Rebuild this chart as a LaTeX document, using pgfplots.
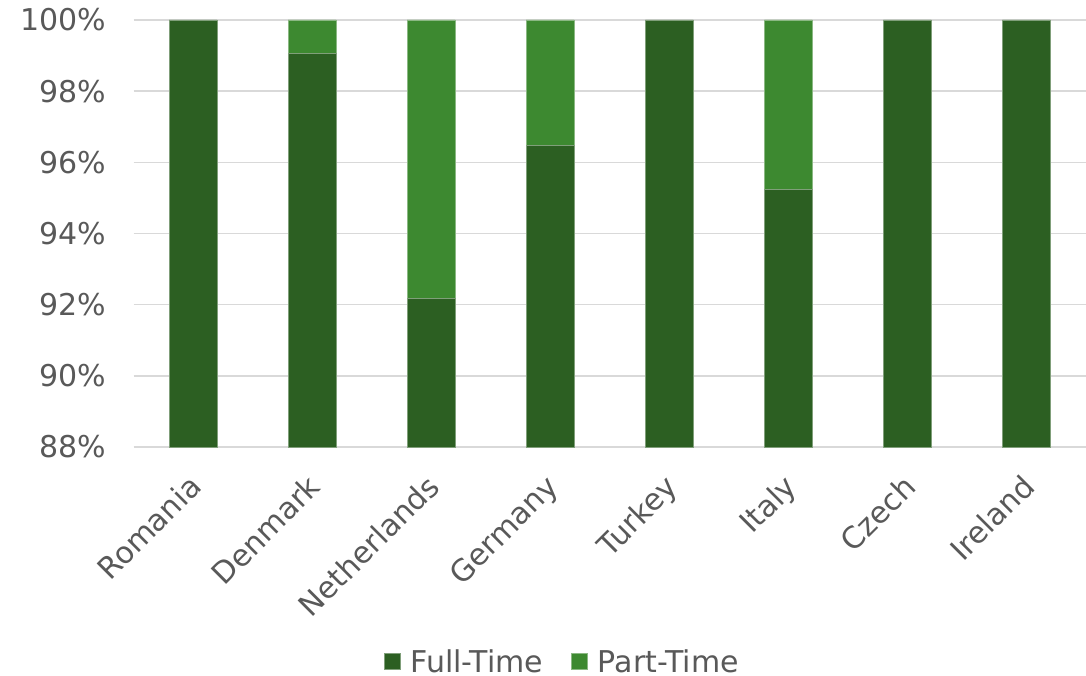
\documentclass[border=0pt]{standalone}
\usepackage{pgfplots}
\pgfplotsset{compat=1.18}
\usepackage{fontspec}
\setmainfont{DejaVu Sans}
\definecolor{ft}{HTML}{2C5F22}
\definecolor{pt}{HTML}{3D8930}
\definecolor{txt}{HTML}{595959}
\definecolor{grd}{HTML}{D9D9D9}
\begin{document}
\begin{tikzpicture}[x=1pt,y=1pt]
\useasboundingbox (0,0) rectangle (1086,675);
\begin{axis}[
  at={(133.5pt,228pt)}, anchor=south west,
  scale only axis, width=952.5pt, height=427pt,
  ybar stacked, bar width=48pt,
  xmin=-0.5, xmax=7.5, ymin=88, ymax=100,
  xtick={0,...,7},
  xticklabels={Romania,Denmark,Netherlands,Germany,Turkey,Italy,Czech,Ireland},
  ytick={88,90,...,100},
  yticklabel={\pgfmathprintnumber{\tick}\%},
  /pgf/number format/assume math mode=true,
  ymajorgrids, grid style={grd, line width=1.5pt},
  axis line style={draw=none}, tick style={draw=none},
  font=\fontsize{30}{35}\selectfont,
  ticklabel style={text=txt},
  yticklabel style={anchor=east, xshift=-24pt},
  xticklabel style={rotate=45, anchor=north east, xshift=-19pt, yshift=-10.5pt},
  legend columns=2,
  legend style={at={(0.45,-0.503)}, anchor=center, draw=none, text=txt,
    font=\fontsize{30}{35}\selectfont,
    /tikz/every odd column/.append style={column sep=8pt},
    /tikz/every even column/.append style={column sep=26pt}},
  legend image code/.code={\fill[#1] (0pt,-8pt) rectangle (16pt,8pt);},
]
\addplot+[fill=ft, draw=ft!60!white, line width=0.8pt] coordinates {(0,100) (1,99.05) (2,92.17) (3,96.47) (4,100) (5,95.24) (6,100) (7,100)};
\addplot+[fill=pt, draw=pt!60!white, line width=0.8pt] coordinates {(0,0) (1,0.95) (2,7.83) (3,3.53) (4,0) (5,4.76) (6,0) (7,0)};
\legend{Full-Time,Part-Time}
\end{axis}
\end{tikzpicture}
\end{document}
